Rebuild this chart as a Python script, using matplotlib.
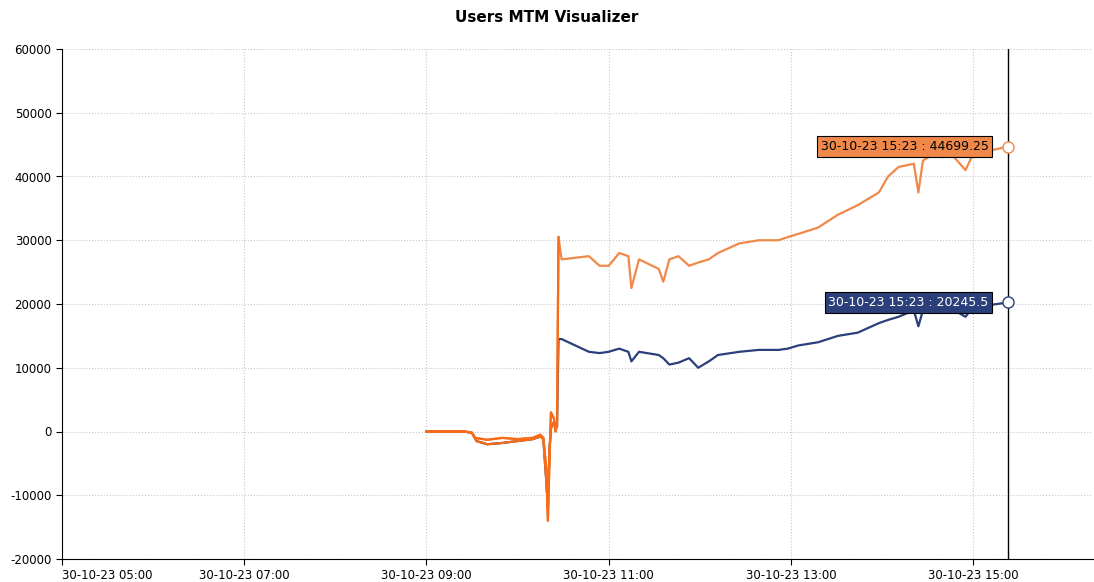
import matplotlib
matplotlib.use("Agg")
import matplotlib.pyplot as plt
import matplotlib.dates as mdates
import pandas as pd
plt.rcParams['axes.unicode_minus'] = False

day = "2023-10-30 "
pre_t_a = ["09:00","09:25","09:30","09:32","09:40","09:50","10:00","10:10","10:15","10:17","10:19","10:20","10:21","10:22","10:24","10:25","10:26"]
pre_a = [0,0,-200,-1000,-1300,-1000,-1200,-1000,-500,-1000,-6000,-14000,-5000,3000,2000,0,1000]
pre_t_b = ["09:00","09:25","09:30","09:33","09:40","09:50","10:00","10:10","10:15","10:17","10:19","10:20","10:21","10:22","10:24","10:25","10:26"]
pre_b = [0,0,-200,-1500,-2000,-1800,-1500,-1200,-800,-1200,-8000,-12000,-3000,500,1500,500,800]

post_t = ["10:27","10:29","10:47","10:54","11:00","11:07","11:13","11:15","11:20","11:33","11:36","11:40","11:46","11:53","11:59","12:06","12:12","12:26","12:39","12:52","12:58","13:05","13:18","13:31","13:44","13:58","14:04","14:11","14:21","14:24","14:27","14:34","14:40","14:44","14:55","15:00","15:10","15:23"]
post_a = [30500,27000,27500,26000,26000,28000,27500,22500,27000,25500,23500,27000,27500,26000,26500,27000,28000,29500,30000,30000,30500,31000,32000,34000,35500,37500,40000,41500,42000,37500,42500,43500,43000,44000,41000,43500,44000,44699.25]
post_b = [14500,14500,12500,12300,12500,13000,12500,11000,12500,12000,11500,10500,10800,11500,10000,11000,12000,12500,12800,12800,13000,13500,14000,15000,15500,17000,17500,18000,19000,16500,19000,19500,19300,19500,18000,19500,19800,20245.5]

ta = pd.to_datetime([day+t for t in pre_t_a+post_t])
tb = pd.to_datetime([day+t for t in pre_t_b+post_t])
va = pre_a+post_a
vb = pre_b+post_b
n_pre = len(pre_t_a)

c_a = "#f0884a"; c_b = "#2b3f7a"; c_pre = "#f96b16"

fig = plt.figure(figsize=(10.94,5.82), dpi=100)
ax = fig.add_axes([62/1094, 1-559/582, (1093-62)/1094, (559-49)/582])
ax.plot(tb, vb, color=c_b, lw=1.6)
ax.plot(ta, va, color=c_a, lw=1.6)
ax.plot(ta[:n_pre+1], va[:n_pre+1], color=c_pre, lw=1.6)
ax.plot(tb[:n_pre], vb[:n_pre], color=c_pre, lw=1.6)

end = pd.Timestamp(day+"15:23")
ax.axvline(end, color="black", lw=1)
ax.plot([end],[post_a[-1]], 'o', mfc="white", mec=c_a, ms=8)
ax.plot([end],[post_b[-1]], 'o', mfc="white", mec=c_b, ms=8)
ax.annotate(f"30-10-23 15:23 : {post_a[-1]}", (end, post_a[-1]), xytext=(-14,0), textcoords="offset points",
            ha="right", va="center", fontsize=9, color="black",
            bbox=dict(boxstyle="square,pad=0.3", fc=c_a, ec="black", lw=0.8))
ax.annotate(f"30-10-23 15:23 : {post_b[-1]}", (end, post_b[-1]), xytext=(-14,0), textcoords="offset points",
            ha="right", va="center", fontsize=9, color="white",
            bbox=dict(boxstyle="square,pad=0.3", fc=c_b, ec="black", lw=0.8))

ax.set_xlim(pd.Timestamp(day+"05:00"), pd.Timestamp(day+"16:19"))
ax.set_ylim(-20000, 60000)
ax.set_yticks(range(-20000, 60001, 10000))
ticks = pd.to_datetime([day+h for h in ["05:00","07:00","09:00","11:00","13:00","15:00"]])
ax.set_xticks(ticks)
ax.xaxis.set_major_formatter(mdates.DateFormatter("%d-%m-%y %H:%M"))
ax.tick_params(labelsize=8.5, length=4)
for lab in ax.get_xticklabels()[:1]:
    lab.set_ha("left")
ax.grid(True, ls=":", color="#c8c8c8", lw=0.8)
for s in ["top","right"]:
    ax.spines[s].set_visible(False)
fig.suptitle("Users MTM Visualizer", y=1-18/582, va="center", fontsize=11, fontweight="bold")
fig.savefig("out.png", dpi=100)
